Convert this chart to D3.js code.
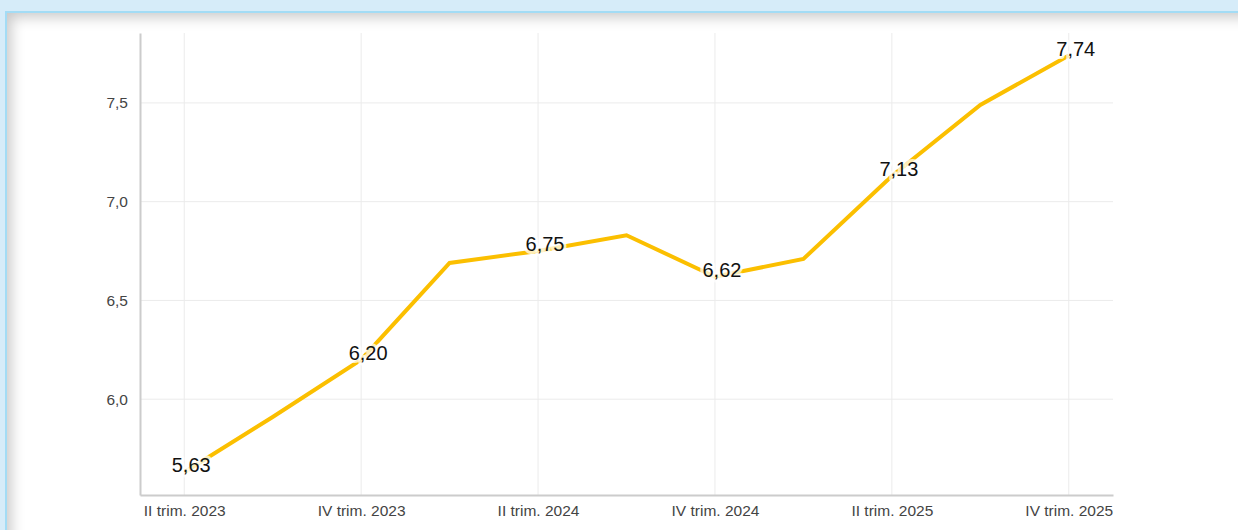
<!DOCTYPE html>
<html>
<head>
<meta charset="utf-8">
<script src="https://cdn.jsdelivr.net/npm/d3@7"></script>
<style>
    html, body { margin: 0; padding: 0; }
    body { width: 1238px; height: 530px; background: #d6ecf9; overflow: hidden; position: relative; }
    #frame {
        position: absolute; left: 5px; top: 11px; width: 1260px; height: 560px;
        background: #fff;
        border-top: 2px solid #a3dcf5;
        border-left: 2px solid #a3dcf5;
        box-shadow: inset 8px 8px 14px -4px rgba(0,0,0,0.22);
    }
    #chart { position: absolute; left: 0; top: 0; }
</style>
</head>
<body>
<div id="frame"></div>
<div id="chart"></div>
<script>
// quarters + values
let quarters = ["II trim. 2023", "III trim. 2023", "IV trim. 2023", "I trim. 2024", "II trim. 2024",
    "III trim. 2024", "IV trim. 2024", "I trim. 2025", "II trim. 2025", "III trim. 2025", "IV trim. 2025"];
let values = [5.63, 5.91, 6.20, 6.69, 6.75, 6.83, 6.62, 6.71, 7.13, 7.49, 7.74];
let yTicks = [6.0, 6.5, 7.0, 7.5];

let margin = {top: 33, right: 125, bottom: 35, left: 140};
let width = 1238 - margin.left - margin.right,
    height = 530 - margin.top - margin.bottom;

let svg = d3.select("#chart").append("svg")
    .attr("width", 1238)
    .attr("height", 530)
    .append("g")
    .attr("transform", `translate(${margin.left},${margin.top})`);

let x = d3.scalePoint()
    .domain(quarters)
    .range([0, width])
    .padding(0.5);

let y = d3.scaleLinear()
    .domain([5.515, 7.854])
    .range([height, 0]);

let fmt = v => d3.format(".1f")(v).replace(".", ",");
let fmt2 = v => d3.format(".2f")(v).replace(".", ",");

// grid
svg.append("g").selectAll("line.hg")
    .data(yTicks)
    .enter().append("line")
    .attr("x1", 0).attr("x2", width)
    .attr("y1", d => y(d)).attr("y2", d => y(d))
    .attr("stroke", "#ebebeb");

svg.append("g").selectAll("line.vg")
    .data(quarters.filter((d, i) => i % 2 === 0))
    .enter().append("line")
    .attr("x1", d => x(d)).attr("x2", d => x(d))
    .attr("y1", 0).attr("y2", height)
    .attr("stroke", "#ebebeb");

// axes
let yAxis = d3.axisLeft(y).tickValues(yTicks).tickFormat(fmt).tickSize(0).tickPadding(12);
let xAxis = d3.axisBottom(x).tickValues(quarters.filter((d, i) => i % 2 === 0)).tickSize(0).tickPadding(10);

let yG = svg.append("g").call(yAxis);
let xG = svg.append("g").attr("transform", `translate(0,${height})`).call(xAxis);

[yG, xG].forEach(g => {
    g.select(".domain").attr("stroke", "#cccccc").attr("stroke-width", 2);
    g.selectAll("text")
        .attr("font-family", "Liberation Sans, Arial, sans-serif")
        .attr("font-size", "15.5px")
        .attr("fill", "#444");
});

// line
let line = d3.line()
    .x((d, i) => x(quarters[i]))
    .y(d => y(d));

svg.append("path")
    .datum(values)
    .attr("d", line)
    .attr("fill", "none")
    .attr("stroke", "#fbbf00")
    .attr("stroke-width", 4)
    .attr("stroke-linejoin", "miter");

// labels (every second quarter)
svg.append("g").selectAll("text")
    .data(values.map((v, i) => ({q: quarters[i], v: v, i: i})).filter(d => d.i % 2 === 0))
    .enter().append("text")
    .attr("x", d => x(d.q) + 7)
    .attr("y", d => y(d.v))
    .attr("dy", "0")
    .attr("text-anchor", "middle")
    .attr("font-family", "Liberation Sans, Arial, sans-serif")
    .attr("font-size", "20px")
    .attr("fill", "#111")
    .attr("stroke", "rgba(255,255,255,0.72)")
    .attr("stroke-width", 6)
    .attr("stroke-linejoin", "round")
    .attr("paint-order", "stroke")
    .text(d => fmt2(d.v));
</script>
</body>
</html>
